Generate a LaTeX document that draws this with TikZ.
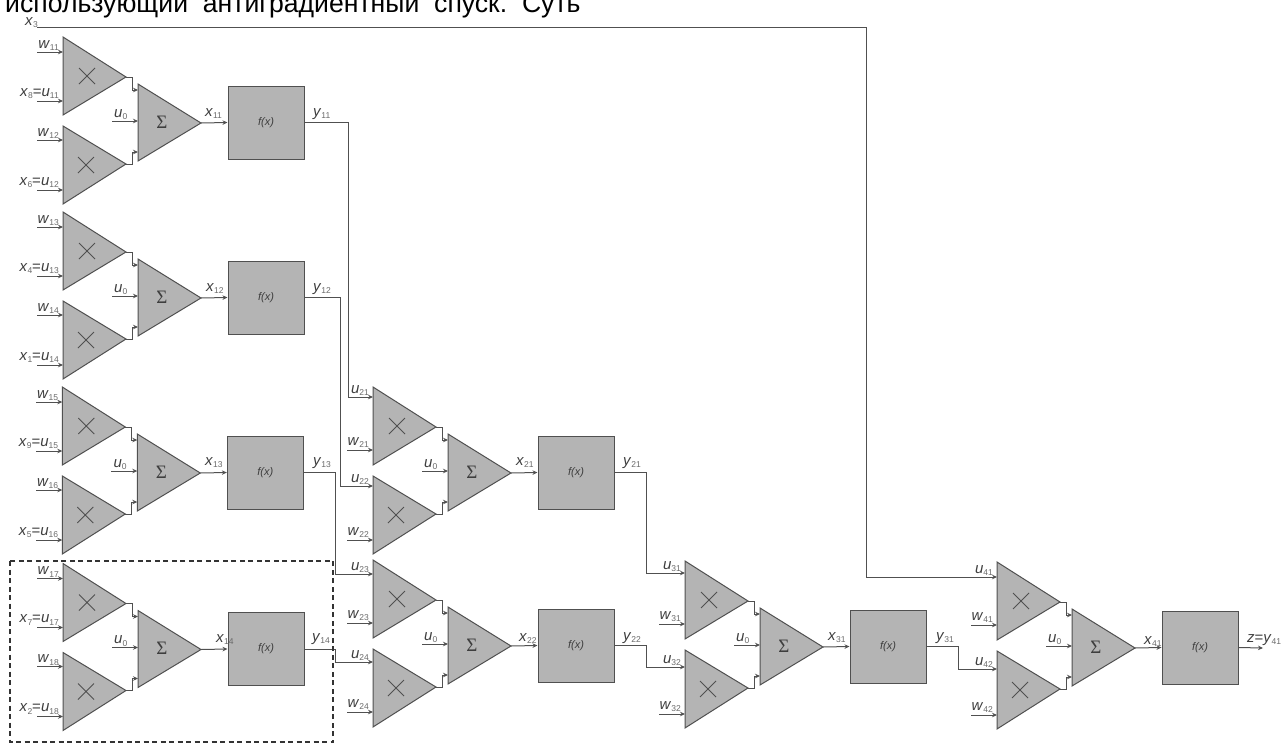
\documentclass[tikz,border=0pt]{standalone}
\usepackage{fontspec}
\setmainfont{Liberation Sans}
\newfontfamily\serifsig{Liberation Serif}
\usetikzlibrary{arrows.meta}
\definecolor{tri}{RGB}{180,180,180}
\definecolor{ink}{RGB}{80,80,80}
\definecolor{txt}{RGB}{62,62,62}
\definecolor{subt}{RGB}{105,105,105}
\newcommand{\lb}[2]{\textit{#1}{\fontsize{8.5}{9}\selectfont\color{subt}\raisebox{-2.5pt}{#2}}}
\newif\ifallstubs
\newcommand{\ia}{15}\newcommand{\ib}{64}\newcommand{\ic}{14}\newcommand{\id}{64}
% #1 name, #2 #3 offset, #4-#7 input labels
\newcommand{\unit}[7]{%
\begin{scope}[shift={(#2,#3)}]
 \coordinate (#1A1) at (63,37); \coordinate (#1A2) at (63,115); \coordinate (#1Ao) at (126,77);
 \coordinate (#1B1) at (63,126); \coordinate (#1B2) at (63,204); \coordinate (#1Bo) at (126,164);
 \coordinate (#1S1) at (138,84); \coordinate (#1S2) at (138,161); \coordinate (#1So) at (201,123);
 \draw[shapeline] (#1A1) -- (#1A2) -- (#1Ao) -- cycle;
 \draw[shapeline] (#1B1) -- (#1B2) -- (#1Bo) -- cycle;
 \draw[shapeline] (#1S1) -- (#1S2) -- (#1So) -- cycle;
 \draw[crossline] (79,68) -- (95,84) (79,84) -- (95,68);
 \draw[crossline] (78,157) -- (94,173) (78,173) -- (94,157);
 \node[sigmatext] (#1sig) at (162,122) {Σ};
 \node[fbox] (#1f) at (266,122.5) {\textit{f(x)}};
 \coordinate (#1a) at (63,{37+\ia}); \coordinate (#1b) at (63,{37+\ib});
 \coordinate (#1c) at (63,{126+\ic}); \coordinate (#1d) at (63,{126+\id});
 \coordinate (#1p) at (138,90); \coordinate (#1q) at (138,152); \coordinate (#1r) at (138,121);
 \coordinate (#1rs) at (112,121);
 \draw[wire] (#1Ao) -- ++(6,0) |- (#1p);
 \draw[wire] (#1Bo) -- ++(6,0) |- (#1q);
 \draw[wire] (#1rs) -- (#1r);
 \draw[wire] (#1So) -- (#1f.west);
 \coordinate (#1bs) at (37,{37+\ib}); \coordinate (#1ds) at (37,{126+\id});
 \draw[wire] (#1bs) -- (#1b);
 \draw[wire] (#1ds) -- (#1d);
 \ifallstubs
  \coordinate (#1as) at (37,{37+\ia}); \coordinate (#1cs) at (37,{126+\ic});
  \draw[wire] (#1as) -- (#1a);
  \draw[wire] (#1cs) -- (#1c);
 \fi
 \node[lab,anchor=base east] (#1la) at (59,{37+\ia-4}) {#4};
 \node[lab,anchor=base east] (#1lb) at (59,{37+\ib-5}) {#5};
 \node[lab,anchor=base east] (#1lc) at (59,{126+\ic-4}) {#6};
 \node[lab,anchor=base east] (#1ld) at (59,{126+\id-5}) {#7};
 \node[lab,anchor=base west] (#1lu) at (114,117) {\lb{u}{0}};
\end{scope}}
\tikzset{
 shapeline/.style={fill=tri,draw=ink,line width=1pt,line join=miter},
 crossline/.style={draw=ink,line width=0.8pt},
 wire/.style={draw=ink,line width=1pt,-{Stealth[length=5pt,width=4.5pt]}},
 sigmatext/.style={inner sep=0pt,text=txt,font=\serifsig\fontsize{19}{19}\selectfont},
 fbox/.style={fill=tri,draw=ink,line width=1pt,minimum width=76pt,minimum height=73pt,inner sep=0pt,text=txt,font=\fontsize{11}{12}\selectfont},
 lab/.style={inner sep=0pt,text=txt,font=\fontsize{15}{16}\selectfont},
 heading/.style={inner sep=0pt,anchor=base west,text=black,font=\fontsize{26.6}{28}\selectfont},
 dashbox/.style={draw=black!80,line width=1.1pt,dash pattern=on 5pt off 3.5pt},
}
\begin{document}
\begin{tikzpicture}[x=1pt,y=-1pt]
\clip (0,0) rectangle (1282,744);
\node[heading] (title) at (5,12.5) {использующий\ \ антиградиентный\ \ спуск.\ \ Суть};
\allstubstrue
\newcommand{\xe}{\hspace{-5.5pt}}
\unit{U}{0}{0}{\lb{w}{11}}{\lb{x}{8}=\lb{u}{11}\xe}{\lb{w}{12}}{\lb{x}{6}=\lb{u}{12}\xe}
\unit{V}{0}{175}{\lb{w}{13}}{\lb{x}{4}=\lb{u}{13}\xe}{\lb{w}{14}}{\lb{x}{1}=\lb{u}{14}\xe}
\unit{W}{-0.7}{350}{\lb{w}{15}}{\lb{x}{9}=\lb{u}{15}\xe}{\lb{w}{16}}{\lb{x}{5}=\lb{u}{16}\xe}
\unit{X}{0}{526.5}{\lb{w}{17}}{\lb{x}{7}=\lb{u}{17}\xe}{\lb{w}{18}}{\lb{x}{2}=\lb{u}{18}\xe}
\allstubsfalse
\renewcommand{\ia}{10}\renewcommand{\ib}{63}\renewcommand{\ic}{10}\renewcommand{\id}{64}
\unit{P}{310}{350}{\lb{u}{21}}{\lb{w}{21}}{\lb{u}{22}}{\lb{w}{22}}
\renewcommand{\ia}{14}\renewcommand{\ib}{63}\renewcommand{\ic}{13}\renewcommand{\id}{63}
\unit{Q}{310}{523}{\lb{u}{23}}{\lb{w}{23}}{\lb{u}{24}}{\lb{w}{24}}
\renewcommand{\ia}{12}\renewcommand{\ib}{63}\renewcommand{\ic}{17}\renewcommand{\id}{64}
\unit{R}{622}{524}{\lb{u}{31}}{\lb{w}{31}}{\lb{u}{32}}{\lb{w}{32}}
\renewcommand{\ia}{15}\renewcommand{\ib}{63}\renewcommand{\ic}{18}\renewcommand{\id}{64}
\unit{S}{934}{525}{\lb{u}{41}}{\lb{w}{41}}{\lb{u}{42}}{\lb{w}{42}}
% output labels
\node[lab,anchor=base west] (lx11) at (205,116) {\lb{x}{11}};
\node[lab,anchor=base west] (ly11) at (313,116) {\lb{y}{11}};
\node[lab,anchor=base west] (lx12) at (206,291) {\lb{x}{12}};
\node[lab,anchor=base west] (ly12) at (313,291) {\lb{y}{12}};
\node[lab,anchor=base west] (lx13) at (205,465) {\lb{x}{13}};
\node[lab,anchor=base west] (ly13) at (313,465) {\lb{y}{13}};
\node[lab,anchor=base west] (lx14) at (216,642) {\lb{x}{14}};
\node[lab,anchor=base west] (ly14) at (312,641) {\lb{y}{14}};
\node[lab,anchor=base west] (lx21) at (516,465) {\lb{x}{21}};
\node[lab,anchor=base west] (ly21) at (623,465) {\lb{y}{21}};
\node[lab,anchor=base west] (lx22) at (519,641) {\lb{x}{22}};
\node[lab,anchor=base west] (ly22) at (623,640) {\lb{y}{22}};
\node[lab,anchor=base west] (lx31) at (828,640) {\lb{x}{31}};
\node[lab,anchor=base west] (ly31) at (936,640) {\lb{y}{31}};
\node[lab,anchor=base west] (lx41) at (1144,644) {\lb{x}{41}};
\node[lab,anchor=base west] (lz) at (1247,642) {\lb{z}{}=\lb{y}{41}};
\node[lab,anchor=base west] (lx3) at (25,25) {\lb{x}{3}};
% connectors
\coordinate (x3s) at (37,27);
\draw[wire] (x3s) -- ++(829,0) |- (Sa);
\draw[wire] (Uf.east) -- ++(44,0) |- (Pa);
\draw[wire] (Vf.east) -- ++(36,0) |- (Pc);
\draw[wire] (Wf.east) -- ++(31.7,0) |- (Qa);
\draw[wire] (Xf.east) -- ++(31,0) |- (Qc);
\draw[wire] (Pf.east) -- ++(32,0) |- (Ra);
\draw[wire] (Qf.east) -- ++(32,0) |- (Rc);
\draw[wire] (Rf.east) -- ++(32,0) |- (Sc);
\coordinate (zend) at (1263,648);
\draw[wire] (Sf.east) -- (zend);
\draw[dashbox] (10,561) rectangle (333,742);
\end{tikzpicture}
\end{document}
